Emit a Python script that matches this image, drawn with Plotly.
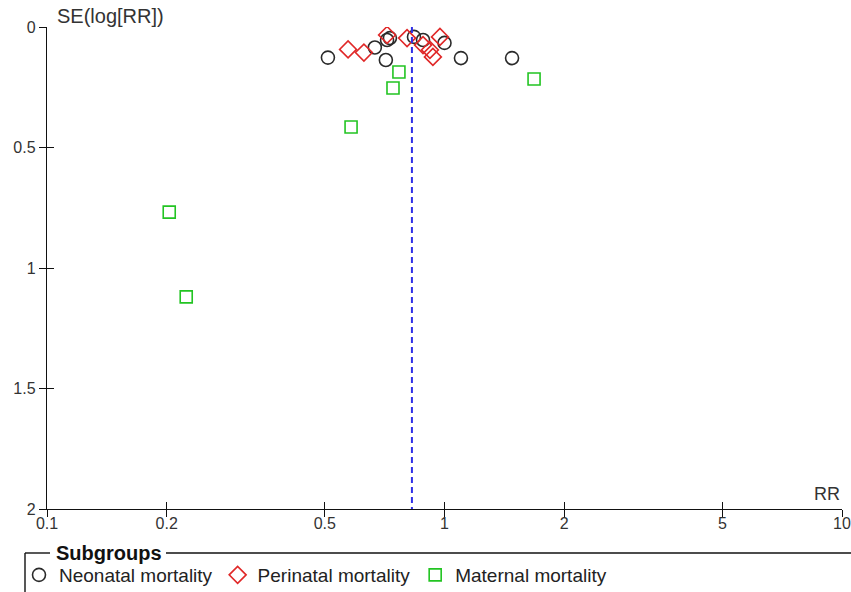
import plotly.graph_objects as go

# ---- data ----
neonatal_rr = [0.509, 0.668, 0.717, 0.729, 0.712, 0.838, 0.883, 1.00, 1.10, 1.479]
neonatal_se = [0.127, 0.085, 0.054, 0.046, 0.137, 0.041, 0.054, 0.066, 0.129, 0.129]

perinatal_rr = [0.572, 0.627, 0.717, 0.805, 0.883, 0.919, 0.935, 0.974]
perinatal_se = [0.093, 0.106, 0.033, 0.046, 0.075, 0.095, 0.124, 0.041]

maternal_rr = [0.768, 0.742, 1.68, 0.582, 0.203, 0.224]
maternal_se = [0.187, 0.253, 0.216, 0.415, 0.768, 1.120]

pooled_rr = 0.828
se_range = [0, 2]

x_tickvals = [0.1, 0.2, 0.5, 1, 2, 5, 10]
x_ticktext = ["0.1", "0.2", "0.5", "1", "2", "5", "10"]
y_tickvals = [0, 0.5, 1, 1.5, 2]
y_ticktext = ["0", "0.5", "1", "1.5", "2"]

FONT = "Liberation Sans, Arial, sans-serif"
W, H = 851, 592
L, R, T, B = 47, 9, 27, 83
PW, PH = W - L - R, H - T - B


def px(x):
    return (x - L) / PW


def py(y):
    return (H - B - y) / PH


fig = go.Figure()

fig.add_trace(go.Scatter(
    x=neonatal_rr, y=neonatal_se, mode="markers", name="Neonatal mortality",
    marker=dict(symbol="circle-open", size=13, color="#2a2a2a", line=dict(width=1.6, color="#2a2a2a")),
))
fig.add_trace(go.Scatter(
    x=perinatal_rr, y=perinatal_se, mode="markers", name="Perinatal mortality",
    marker=dict(symbol="diamond-open", size=13, color="#e02828", line=dict(width=1.6, color="#e02828")),
))
fig.add_trace(go.Scatter(
    x=maternal_rr, y=maternal_se, mode="markers", name="Maternal mortality",
    marker=dict(symbol="square-open", size=12, color="#22c422", line=dict(width=1.6, color="#22c422")),
))
# pooled estimate dashed line, on overlay axes (which also draw the inner tick halves)
fig.add_trace(go.Scatter(
    x=[pooled_rr, pooled_rr], y=se_range, mode="lines", showlegend=False,
    xaxis="x2", yaxis="y2", hoverinfo="skip",
    line=dict(color="#2f2fe6", width=2, dash="6px,4px"),
))

common_x = dict(type="log", range=[-1, 1], tickvals=x_tickvals, ticktext=x_ticktext,
                showgrid=False, zeroline=False, ticklen=7, tickwidth=1.2, tickcolor="#111",
                automargin=False)
common_y = dict(range=[2, 0], tickvals=y_tickvals, ticktext=y_ticktext,
                showgrid=False, zeroline=False, ticklen=7, tickwidth=1.2, tickcolor="#111",
                automargin=False)

fig.update_layout(
    width=W, height=H,
    margin=dict(l=L, r=R, t=T, b=B, pad=0, autoexpand=False),
    paper_bgcolor="white", plot_bgcolor="white",
    font=dict(family=FONT, size=16, color="#222"),
    xaxis=dict(**common_x, ticks="outside", showline=True, linecolor="#111", linewidth=1.4,
               tickfont=dict(size=16, color="#333"), ticklabelstandoff=-7),
    yaxis=dict(**common_y, ticks="outside", showline=True, linecolor="#111", linewidth=1.4,
               tickfont=dict(size=16, color="#333")),
    xaxis2=dict(**common_x, ticks="inside", overlaying="x", anchor="y2", side="bottom",
                showticklabels=False, showline=False),
    yaxis2=dict(**common_y, ticks="inside", overlaying="y", anchor="x2", side="left",
                showticklabels=False, showline=False),
    showlegend=True,
    legend=dict(
        orientation="h", x=px(19), xanchor="left", y=py(575), yanchor="middle",
        font=dict(size=19, color="#222"), bgcolor="rgba(0,0,0,0)", itemsizing="trace",
        tracegroupgap=0,
    ),
)

# axis titles
fig.add_annotation(text="SE(log[RR])", xref="paper", yref="paper", x=px(55), y=py(16),
                   xanchor="left", yanchor="middle", showarrow=False,
                   font=dict(size=20, color="#333", family=FONT))
fig.add_annotation(text="RR", xref="paper", yref="paper", x=px(842), y=py(494),
                   xanchor="right", yanchor="middle", showarrow=False,
                   font=dict(size=18, color="#333", family=FONT))
# legend caption
fig.add_annotation(text="<b>Subgroups</b>", xref="paper", yref="paper", x=px(54), y=py(553),
                   xanchor="left", yanchor="middle", showarrow=False,
                   font=dict(size=20, color="#111", family=FONT))

# legend frame (with gap for caption)
line_style = dict(color="#111", width=1.4)
fig.add_shape(type="line", xref="paper", yref="paper", x0=px(25), x1=px(50), y0=py(553), y1=py(553), line=line_style)
fig.add_shape(type="line", xref="paper", yref="paper", x0=px(166), x1=px(851), y0=py(553), y1=py(553), line=line_style)
fig.add_shape(type="line", xref="paper", yref="paper", x0=px(25), x1=px(25), y0=py(553), y1=py(592), line=line_style)

fig.write_html("out.html")
